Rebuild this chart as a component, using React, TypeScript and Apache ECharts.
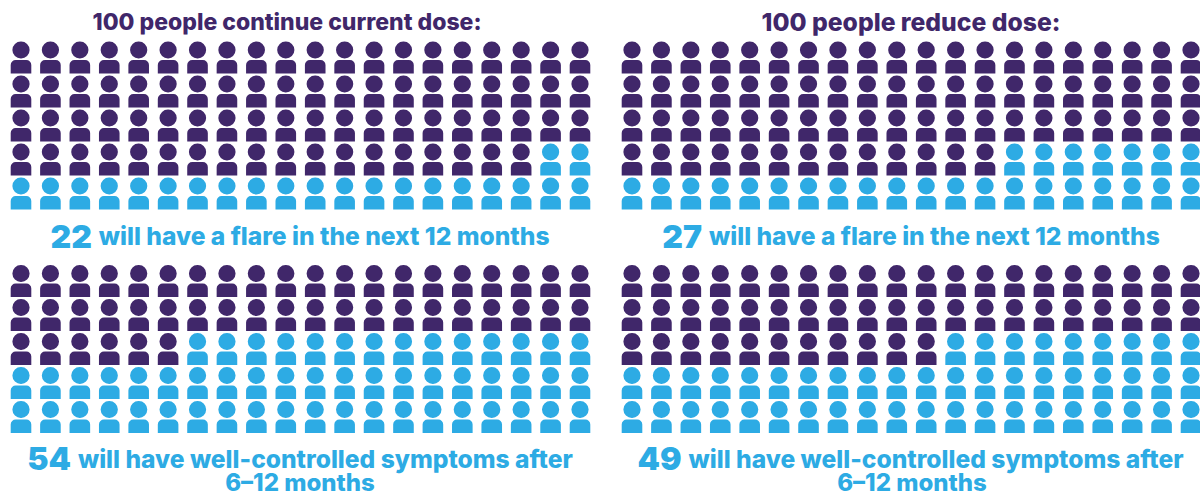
import React, { useEffect, useRef } from "react";
import * as echarts from "echarts";

const panelCounts = [22, 27, 54, 49];
const panelLefts = [21, 632, 21, 632];
const panelTops = [57.5, 57.5, 281, 281];
const headings = ["100 people continue current dose:", "100 people reduce dose:"];
const outcomes = [
  "will have a flare in the next 12 months",
  "will have a flare in the next 12 months",
  "will have well-controlled symptoms after",
  "will have well-controlled symptoms after",
];
const secondLine = "6–12 months";
const COLS = 20;
const ROWS = 5;
const DARK = "#40276a";
const BLUE = "#2dabe4";
const PERSON =
  "path://M10.3 0A8.5 8.5 0 1 1 10.3 17A8.5 8.5 0 1 1 10.3 0Z M5 18.5H15.6A5 5 0 0 1 20.6 23.5V32H0V23.5A5 5 0 0 1 5 18.5Z";

function people(count: number, highlighted: boolean) {
  const out: number[][] = [];
  for (let i = 0; i < COLS * ROWS; i++) {
    if (i < count === highlighted) out.push([COLS - 1 - (i % COLS), Math.floor(i / COLS)]);
  }
  return out;
}

const FONT = "Inter";

export default function App() {
  const ref = useRef<HTMLDivElement>(null);
  useEffect(() => {
    const chart = echarts.init(ref.current!, null, { renderer: "svg" });
    const rich = {
      num: { fontFamily: FONT, fontWeight: 900, fontSize: 32, lineHeight: 24, color: BLUE, padding: [0, 2, 0, 0] },
      txt: { fontFamily: FONT, fontWeight: 800, fontSize: 24.6, lineHeight: 24, color: BLUE },
    };
    const title: any[] = [
      { text: headings[0], left: 287, top: 10, textAlign: "center", padding: 0, textStyle: { fontFamily: FONT, fontWeight: 800, fontSize: 23, lineHeight: 24, color: DARK } },
      { text: headings[1], left: 911, top: 10, textAlign: "center", padding: 0, textStyle: { fontFamily: FONT, fontWeight: 800, fontSize: 24.7, lineHeight: 24, color: DARK } },
    ];
    const centers = [300, 911, 300, 910.5];
    const ys = [224, 224, 446.5, 446.5];
    panelCounts.forEach((c, i) => {
      title.push({
        text: `{num|${c}} {txt|${outcomes[i]}}`,
        left: centers[i],
        top: ys[i],
        textAlign: "center",
        padding: 0,
        textStyle: { rich },
      });
    });
    [300, 912].forEach((x) =>
      title.push({
        text: secondLine,
        left: x,
        top: 471,
        textAlign: "center",
        padding: 0,
        textStyle: { fontFamily: FONT, fontWeight: 800, fontSize: 24, lineHeight: 22, color: BLUE },
      })
    );
    const grid = panelCounts.map((_, i) => ({ left: panelLefts[i], top: panelTops[i], width: 559, height: 136 }));
    const xAxis = panelCounts.map((_, i) => ({ type: "value", gridIndex: i, min: 0, max: COLS - 1, show: false }));
    const yAxis = panelCounts.map((_, i) => ({ type: "value", gridIndex: i, min: 0, max: ROWS - 1, show: false }));
    const series: any[] = [];
    panelCounts.forEach((c, i) => {
      [false, true].forEach((hl) =>
        series.push({
          type: "scatter",
          xAxisIndex: i,
          yAxisIndex: i,
          data: people(c, hl),
          symbol: PERSON,
          symbolSize: [20.6, 32],
          itemStyle: { color: hl ? BLUE : DARK, opacity: 1 },
          clip: false,
          silent: true,
        })
      );
    });
    chart.setOption({ animation: false, backgroundColor: "#fff", title, grid, xAxis, yAxis, series });
    return () => chart.dispose();
  }, []);
  return <div ref={ref} style={{ position: "fixed", left: 0, top: 0, width: 1200, height: 496 }} />;
}
